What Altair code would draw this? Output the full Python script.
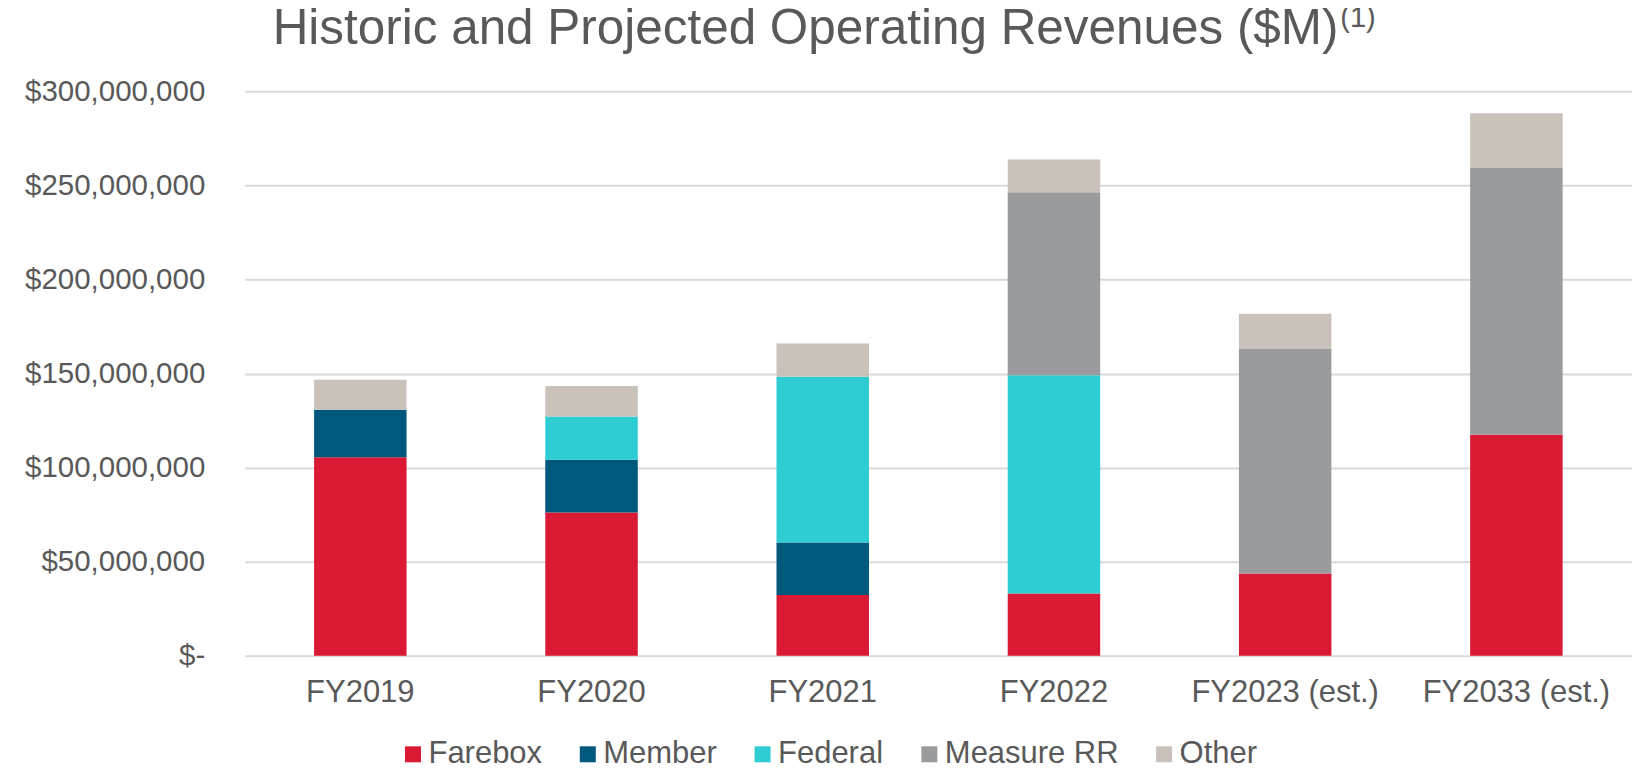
import altair as alt
import pandas as pd

years = ["FY2019", "FY2020", "FY2021", "FY2022", "FY2023 (est.)", "FY2033 (est.)"]
sources = ["Farebox", "Member", "Federal", "Measure RR", "Other"]
colors = ["#DA1A35", "#00587C", "#2ECCD3", "#9A9B9D", "#C9C2BB"]

# values in $ millions
farebox = [105.5, 76.1, 32.2, 33.1, 43.7, 117.4]
member = [25.3, 28.0, 28.0, 0, 0, 0]
federal = [0, 23.0, 88.1, 116.0, 0, 0]
measure_rr = [0, 0, 0, 97.3, 119.3, 141.8]
other = [15.9, 16.3, 17.6, 17.4, 18.8, 29.2]

title_text = ["Historic and Projected Operating Revenues ($M)"]
footnote = ["(1)"]

series = [farebox, member, federal, measure_rr, other]
rows = []
for si, (name, vals) in enumerate(zip(sources, series)):
    for y, v in zip(years, vals):
        if v > 0:
            rows.append({"year": y, "source": name, "value": v * 1e6, "order": si})
df = pd.DataFrame(rows)

font = "Liberation Sans"
txt = "#595959"

bars = alt.Chart(df).mark_bar().encode(
    x=alt.X("year:N", sort=years, title=None,
            scale=alt.Scale(paddingInner=0.6, paddingOuter=0.3),
            axis=alt.Axis(labelAngle=0, labelFontSize=31, labelColor=txt, labelFont=font,
                          ticks=False, tickSize=0, domain=False, labelPadding=22, grid=False,
                          labelLimit=500)),
    y=alt.Y("value:Q", stack="zero", title=None,
            scale=alt.Scale(domain=[0, 300e6], nice=False),
            axis=alt.Axis(values=[0, 50e6, 100e6, 150e6, 200e6, 250e6, 300e6],
                          labelExpr="datum.value == 0 ? '$-\u00a0\u00a0' : '$' + format(datum.value, ',')",
                          labelFontSize=29.5, labelColor=txt, labelFont=font, labelPadding=40,
                          labelAlign="right", labelLimit=500,
                          ticks=False, tickSize=0, domain=False, gridColor="#D9D9D9", gridWidth=2)),
    color=alt.Color("source:N", sort=sources,
                    scale=alt.Scale(domain=sources, range=colors),
                    legend=alt.Legend(title=None, orient="none", direction="horizontal",
                                      legendX=153, legendY=648,
                                      symbolType="square", symbolSize=256, symbolStrokeWidth=0,
                                      labelFontSize=31, labelColor=txt, labelFont=font,
                                      labelOffset=0, columnPadding=30, padding=0, labelLimit=500)),
    order=alt.Order("order:Q", sort="ascending"),
)

title = alt.Chart(pd.DataFrame({"t": title_text})).mark_text(
    font=font, fontSize=49.5, color=txt, align="left", baseline="alphabetic"
).encode(text="t:N", x=alt.value(28), y=alt.value(-47))

sup = alt.Chart(pd.DataFrame({"t": footnote})).mark_text(
    font=font, fontSize=29, color=txt, align="left", baseline="alphabetic"
).encode(text="t:N", x=alt.value(1097), y=alt.value(-64))

chart = alt.layer(bars, title, sup).properties(
    width=1389, height=565,
    autosize=alt.AutoSizeParams(type="none"),
    padding={"left": 237, "top": 83, "right": 0, "bottom": 120},
).configure_view(stroke=None)

chart.save("out.html", embed_options={"renderer": "svg", "actions": False})
